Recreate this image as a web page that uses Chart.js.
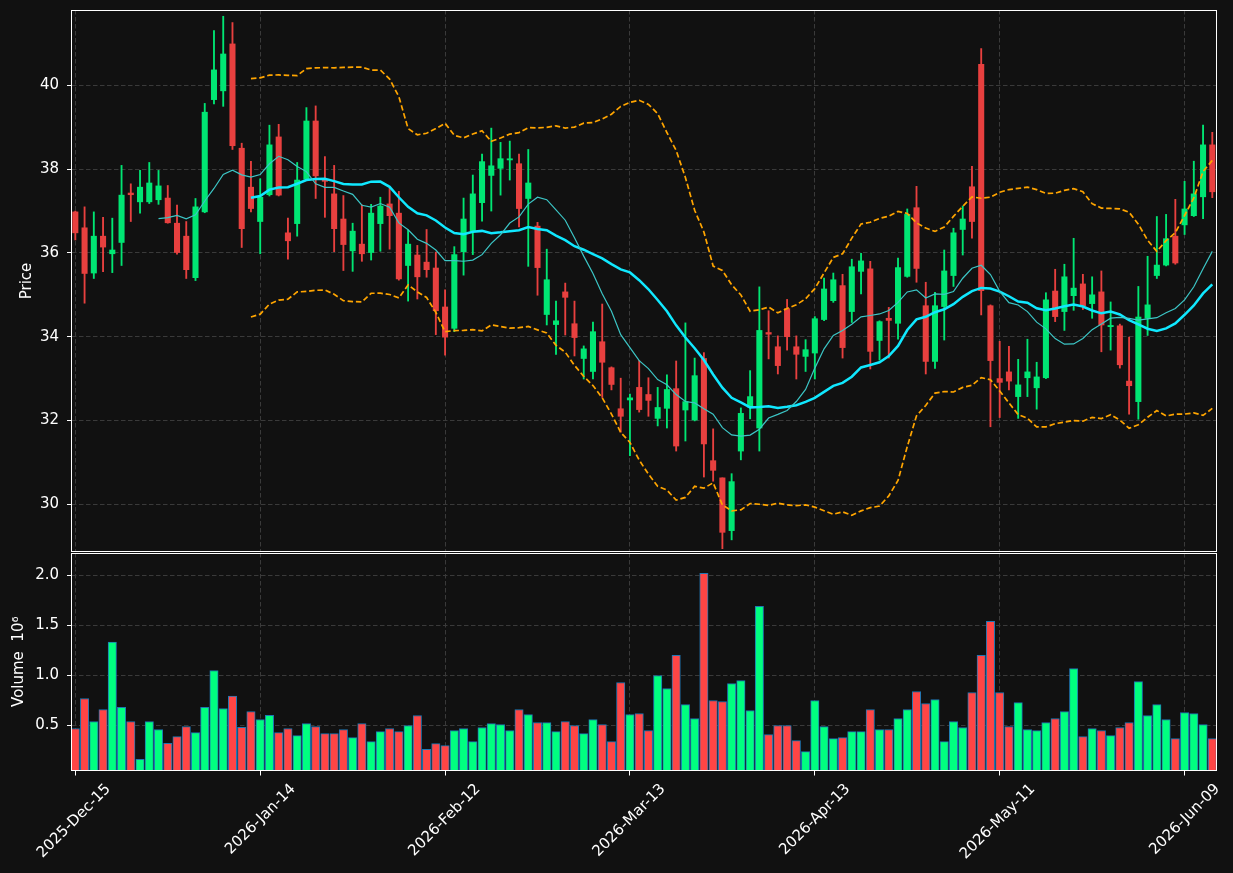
<!DOCTYPE html>
<html><head><meta charset="utf-8">
<script src="https://cdn.jsdelivr.net/npm/chart.js@4.4.1/dist/chart.umd.min.js"></script>
<style>
html,body{margin:0;padding:0;background:#111111;}
#wrap{position:relative;width:1233px;height:873px;background:#111111;overflow:hidden;}
canvas{position:absolute;left:0;}
#price{top:0;width:1233px;height:553px;}
#vol{top:553px;width:1233px;height:320px;}
</style></head><body>
<div id="wrap"><canvas id="price" width="1233" height="553"></canvas><canvas id="vol" width="1233" height="320"></canvas></div>
<script>
// ---- data ----
const tickIndex  = [0, 20, 40, 60, 80, 100, 120];
const tickLabels = ["2025-Dec-15","2026-Jan-14","2026-Feb-12","2026-Mar-13","2026-Apr-13","2026-May-11","2026-Jun-09"];
const priceTicks = [30, 32, 34, 36, 38, 40];
const volumeTicks = [0.5, 1.0, 1.5, 2.0];

const opens = [36.98,36.60,35.52,36.40,35.98,36.25,37.43,37.22,37.22,37.27,
37.31,36.71,36.40,35.41,36.98,39.66,39.87,40.99,38.50,37.57,
36.75,37.39,38.77,36.48,36.70,37.76,39.15,37.73,37.41,36.81,
36.05,36.21,36.01,36.70,37.17,36.95,35.70,35.95,35.78,35.64,
34.71,34.20,36.03,36.53,37.20,37.85,38.02,38.22,38.13,37.30,
36.64,34.53,34.29,35.07,34.31,33.48,33.17,33.88,33.26,32.28,
32.49,32.79,32.62,32.05,32.29,32.76,32.25,32.01,33.48,31.04,
30.63,29.37,31.27,32.32,31.82,34.10,33.76,34.67,33.76,33.53,
33.61,34.41,34.86,35.22,34.60,35.56,35.62,33.91,34.44,34.32,
35.44,37.08,34.74,33.41,34.72,35.46,36.56,37.58,40.50,34.74,
33.00,33.16,32.57,33.02,32.78,33.02,35.09,34.60,34.98,35.26,
34.79,35.07,34.24,34.26,32.94,32.45,34.44,35.46,35.71,36.40,
36.67,36.89,37.34,38.58];
const highs = [37.00,37.10,36.98,36.85,36.83,38.09,37.65,37.97,38.16,37.97,
37.61,37.14,36.75,37.30,39.57,41.31,41.65,41.50,38.62,38.19,
37.77,39.05,39.07,36.83,38.16,39.47,39.51,38.30,38.09,37.37,
36.71,37.15,37.16,37.33,37.55,37.47,36.55,36.18,36.56,36.02,
35.12,36.15,37.31,37.86,38.36,38.98,38.64,38.67,38.36,38.47,
36.73,36.09,34.85,35.28,34.85,33.78,34.35,34.78,33.28,33.01,
32.63,33.43,33.02,32.79,33.09,33.42,34.33,33.49,33.62,31.80,
30.63,30.73,32.30,33.19,35.19,34.62,34.02,34.89,34.02,33.93,
34.48,35.40,35.52,35.49,35.85,35.99,35.80,34.38,34.70,35.88,
37.05,37.59,35.30,35.06,36.07,36.59,37.12,38.07,40.88,34.76,
33.89,33.77,33.46,33.94,33.39,35.05,35.61,35.73,36.35,35.49,
35.43,35.57,34.83,34.30,33.99,35.20,35.92,36.87,36.92,37.28,
37.71,38.19,39.05,38.88];
const lows = [36.31,34.80,35.39,35.55,35.53,35.70,36.75,36.95,37.18,37.16,
36.71,35.97,35.39,35.34,36.96,39.56,39.50,38.47,36.13,36.98,
35.98,37.36,37.36,35.85,36.40,37.74,37.30,36.85,36.03,35.58,
35.56,35.80,35.83,36.04,36.09,35.35,34.85,34.90,35.42,34.05,
33.56,34.12,35.47,35.96,36.76,37.00,37.38,37.74,36.62,35.68,
34.99,34.28,33.58,34.04,33.54,32.99,32.99,32.55,32.73,31.72,
31.16,32.20,32.10,31.87,31.82,31.27,31.51,31.99,30.65,30.55,
28.94,29.15,31.06,32.04,31.27,33.47,33.11,33.68,32.99,33.17,
32.99,34.38,34.82,33.49,34.34,35.02,33.23,33.44,33.49,33.94,
35.42,35.30,33.11,33.24,33.92,35.20,35.95,36.35,34.52,31.85,
32.07,32.73,32.05,32.57,32.27,33.00,34.36,34.15,34.63,34.65,
34.44,33.64,33.68,33.25,32.15,32.03,34.03,35.39,35.69,35.73,
36.44,36.87,36.82,37.32];
const closes = [36.48,35.51,36.40,36.14,36.07,37.38,37.39,37.57,37.67,37.60,
36.72,36.01,35.60,37.10,39.36,40.37,40.75,38.56,36.58,37.06,
37.33,38.58,37.38,36.29,37.74,39.15,37.84,37.71,36.58,36.20,
36.52,35.98,36.95,37.12,36.89,35.38,36.21,35.43,35.60,34.62,
33.99,35.96,36.81,37.41,38.18,38.08,38.25,38.24,37.06,37.67,
35.65,35.36,34.38,34.94,33.98,33.71,34.12,33.39,32.86,32.10,
32.54,32.26,32.48,32.31,32.74,31.39,32.45,33.07,31.44,30.81,
29.33,30.54,32.17,32.57,34.15,34.06,33.31,34.00,33.58,33.69,
34.43,35.14,35.36,33.74,35.67,35.81,33.65,34.36,34.39,35.65,
36.92,35.63,33.41,34.74,35.57,36.48,36.81,36.75,35.10,33.43,
32.91,32.94,32.85,33.16,33.04,34.88,34.48,35.43,35.16,34.74,
35.00,34.28,34.26,33.33,32.83,34.47,34.76,35.71,36.34,35.76,
37.05,37.41,38.58,37.46];
// volume in millions (axis offset label 10^6)
const volumes = [0.467,0.767,0.537,0.657,1.330,0.680,0.537,0.160,0.537,0.457,
0.320,0.387,0.487,0.427,0.680,1.047,0.667,0.790,0.480,0.637,
0.557,0.600,0.427,0.467,0.397,0.517,0.487,0.417,0.417,0.457,
0.377,0.517,0.337,0.437,0.467,0.437,0.497,0.597,0.260,0.317,
0.297,0.447,0.467,0.337,0.477,0.517,0.507,0.447,0.657,0.607,
0.527,0.527,0.437,0.537,0.497,0.417,0.557,0.507,0.337,0.927,
0.607,0.617,0.447,0.997,0.867,1.197,0.707,0.567,2.017,0.747,
0.737,0.917,0.947,0.647,1.687,0.407,0.497,0.497,0.347,0.237,
0.747,0.487,0.367,0.377,0.437,0.437,0.657,0.457,0.457,0.567,
0.657,0.837,0.717,0.757,0.337,0.537,0.477,0.827,1.197,1.537,
0.827,0.487,0.727,0.457,0.447,0.527,0.567,0.637,1.067,0.387,
0.467,0.447,0.397,0.477,0.527,0.937,0.597,0.707,0.557,0.367,
0.627,0.617,0.507,0.367];

// ---- indicators derived from closes (moving averages 10/20, Bollinger 20, 2σ) ----
function sma(arr, n) {
  return arr.map((_, i) => i < n - 1 ? null : arr.slice(i - n + 1, i + 1).reduce((a, b) => a + b, 0) / n);
}
function band(arr, n, k) {
  return arr.map((_, i) => {
    if (i < n - 1) return null;
    const w = arr.slice(i - n + 1, i + 1);
    const m = w.reduce((a, b) => a + b, 0) / n;
    const sd = Math.sqrt(w.reduce((a, b) => a + (b - m) * (b - m), 0) / n);
    return m + k * sd;
  });
}
const ma10 = sma(closes, 10);
const ma20 = sma(closes, 20);
const bbUpper = band(closes, 20, 2);
const bbLower = band(closes, 20, -2);

// ---- styling ----
const UP = '#00e673', DOWN = '#e8403f';
const VUP = '#00ff80', VDOWN = '#ff4545';
const GRID = '#3a3a3a';
const FONT = {family: "'DejaVu Sans', sans-serif", size: 15};
const XMIN = -0.36, XMAX = 123.4;
const isUp = i => closes[i] >= opens[i];
const pts = arr => arr.map((v, i) => ({x: i, y: v})).filter(p => p.y !== null);

const frame = {
  id: 'frame',
  afterDraw(chart) {
    const {ctx, chartArea: a} = chart;
    ctx.save();
    ctx.strokeStyle = '#ffffff';
    ctx.lineWidth = 1;
    ctx.setLineDash([]);
    ctx.strokeRect(Math.round(a.left) - 0.5, Math.round(a.top) + 0.5, Math.round(a.right - a.left) + 1, Math.round(a.bottom - a.top) - 1);
    ctx.restore();
  }
};

const setTicks = vals => s => { s.ticks = vals.map(v => ({value: v})); };
const noPad = s => { s.paddingTop = 0; s.paddingBottom = 0; s.paddingLeft = 0; s.paddingRight = 0; };

const xGridCommon = {
  type: 'linear', min: XMIN, max: XMAX, offset: false,
  afterBuildTicks: setTicks(tickIndex),
  border: {display: false, dash: [4.5, 2.5]},
};

Chart.defaults.font.family = FONT.family;

new Chart(document.getElementById('price'), {
  type: 'bar',
  data: {
    datasets: [
      {type: 'line', label: 'MA10', data: pts(ma10), borderColor: '#3cc6c6', borderWidth: 1.2, pointRadius: 0, tension: 0, order: 0},
      {type: 'line', label: 'MA20', data: pts(ma20), borderColor: '#10e8ff', borderWidth: 2.5, pointRadius: 0, tension: 0, order: 0},
      {type: 'line', label: 'BB upper', data: pts(bbUpper), borderColor: '#ffa500', borderWidth: 1.7, borderDash: [5.5, 2.8], pointRadius: 0, tension: 0, order: 0},
      {type: 'line', label: 'BB lower', data: pts(bbLower), borderColor: '#ffa500', borderWidth: 1.7, borderDash: [5.5, 2.8], pointRadius: 0, tension: 0, order: 0},
      {label: 'body', data: opens.map((o, i) => ({x: i, y: [o, closes[i]]})),
       backgroundColor: c => isUp(c.dataIndex) ? UP : DOWN, borderWidth: 0,
       barThickness: 5.4, grouped: false, minBarLength: 1.2, order: 2},
      {label: 'wick', data: lows.map((l, i) => ({x: i, y: [l, highs[i]]})),
       backgroundColor: c => isUp(c.dataIndex) ? UP : DOWN, borderWidth: 0,
       barThickness: 1.2, grouped: false, order: 3}
    ]
  },
  options: {
    responsive: false, animation: false, devicePixelRatio: 1,
    layout: {padding: {left: 0, right: 17, top: 10, bottom: 1}},
    plugins: {legend: {display: false}, tooltip: {enabled: false}},
    scales: {
      x: Object.assign({}, xGridCommon, {
        ticks: {display: false},
        grid: {color: GRID, lineWidth: 1, drawTicks: false, offset: false},
        afterFit: s => { s.height = 0; noPad(s); }
      }),
      y: {
        type: 'linear', min: 28.86, max: 41.80,
        afterBuildTicks: setTicks(priceTicks),
        afterFit: s => { s.width = 72; noPad(s); },
        border: {display: false, dash: [4.5, 2.5]},
        grid: {color: GRID, lineWidth: 1, drawTicks: true, tickLength: 5, tickColor: '#ffffff', tickWidth: 1, tickBorderDash: [10, 0]},
        ticks: {color: '#ffffff', font: FONT, padding: 8, callback: v => String(v)},
        title: {display: true, text: 'Price', color: '#ffffff', font: FONT, padding: {top: 18, bottom: 0}}
      }
    }
  },
  plugins: [frame]
});

new Chart(document.getElementById('vol'), {
  type: 'bar',
  data: {
    datasets: [{
      label: 'Volume', data: volumes.map((v, i) => ({x: i, y: v})),
      backgroundColor: c => isUp(c.dataIndex) ? VUP : VDOWN,
      borderColor: '#1f77b4', borderWidth: 1, borderSkipped: false,
      barThickness: 8.4, grouped: false
    }]
  },
  options: {
    responsive: false, animation: false, devicePixelRatio: 1,
    layout: {padding: {left: 0, right: 17, top: 0, bottom: 0}},
    plugins: {legend: {display: false}, tooltip: {enabled: false}},
    scales: {
      x: Object.assign({}, xGridCommon, {
        grid: {color: GRID, lineWidth: 1, drawTicks: true, tickLength: 5, tickColor: '#ffffff', tickWidth: 1, tickBorderDash: [10, 0], offset: false},
        ticks: {color: '#ffffff', font: FONT, autoSkip: false, maxRotation: 45, minRotation: 45, padding: 5, labelOffset: 33,
                callback: v => tickLabels[tickIndex.indexOf(v)]},
        afterFit: s => { s.height = 102.5; noPad(s); }
      }),
      y: {
        type: 'linear', min: 0.048, max: 2.22,
        afterBuildTicks: setTicks(volumeTicks),
        afterFit: s => { s.width = 72; noPad(s); },
        border: {display: false, dash: [4.5, 2.5]},
        grid: {color: GRID, lineWidth: 1, drawTicks: true, tickLength: 5, tickColor: '#ffffff', tickWidth: 1, tickBorderDash: [10, 0]},
        ticks: {color: '#ffffff', font: FONT, padding: 8, callback: v => v.toFixed(1)},
        title: {display: true, text: 'Volume  10\u2076', color: '#ffffff', font: FONT, padding: {top: 10, bottom: 0}}
      }
    }
  },
  plugins: [frame]
});
</script>
</body></html>
